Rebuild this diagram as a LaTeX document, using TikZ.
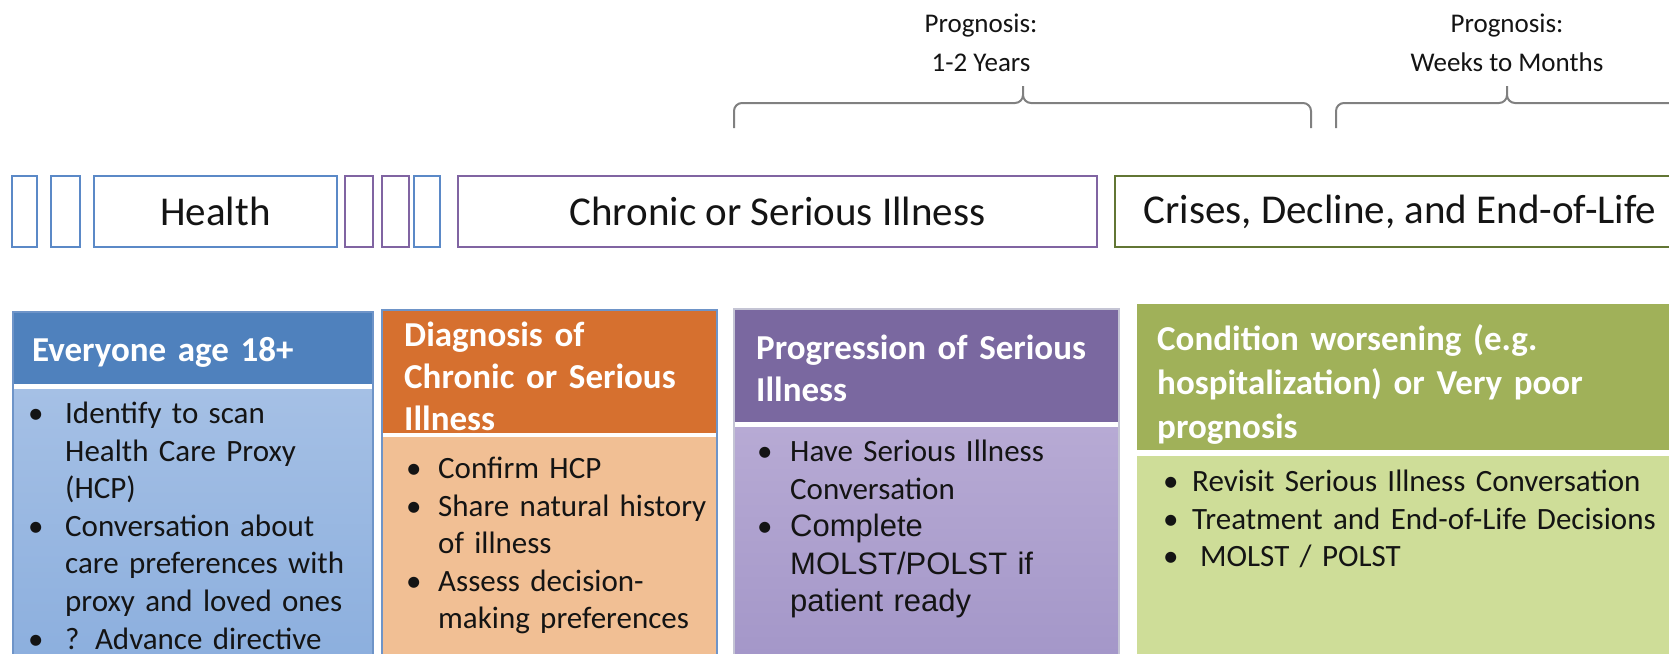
\documentclass[tikz,border=0pt]{standalone}
\usepackage{fontspec}
\setmainfont{Carlito}
\newfontfamily\arialfont{Liberation Sans}
\usepackage{tikz}
\usetikzlibrary{positioning}

\definecolor{phase-blue}{RGB}{91,137,199}
\definecolor{phase-purple}{RGB}{128,100,162}
\definecolor{phase-green}{RGB}{98,118,52}
\definecolor{brace-gray}{RGB}{128,128,128}
\definecolor{txt-dark}{RGB}{20,20,20}
\definecolor{hdr-blue}{RGB}{79,129,189}
\definecolor{body-blue-top}{RGB}{165,192,229}
\definecolor{body-blue-bot}{RGB}{140,175,222}
\definecolor{hdr-orange}{RGB}{214,112,47}
\definecolor{body-orange}{RGB}{241,191,148}
\definecolor{hdr-purple}{RGB}{122,104,160}
\definecolor{body-purple-top}{RGB}{183,170,212}
\definecolor{body-purple-bot}{RGB}{163,150,200}
\definecolor{hdr-green}{RGB}{160,177,89}
\definecolor{body-green}{RGB}{206,221,152}
\definecolor{edge-blue}{RGB}{110,148,200}
\definecolor{edge-gray}{RGB}{196,196,212}

% bullet item with hanging indent
\newcommand{\itm}[2][32pt]{\hangindent=#1\hangafter=1\noindent\strut\makebox[#1][l]{\textbullet}#2\par}

\begin{document}
\begin{tikzpicture}[x=1pt, y=-1pt,
  phase/.style={draw, line width=2.4pt, minimum height=71pt, inner sep=0pt,
                outer sep=0pt, text=txt-dark, font=\fontsize{41}{49}\selectfont},
  prog/.style={align=center, inner sep=0pt, text=txt-dark,
               font=\fontsize{27}{39}\selectfont},
  bracket/.style={draw=brace-gray, line width=2pt},
  hdr/.style={anchor=north west, inner sep=0pt, outer sep=0pt},
  title/.style={inner sep=0pt, align=left, text=white,
                font=\fontsize{35}{42}\selectfont\bfseries,
                execute at begin node=\strut},
  body/.style={inner sep=0pt, outer sep=0pt},
  items/.style={inner sep=0pt, align=left, text=txt-dark,
                font=\fontsize{31}{37.6}\selectfont},
  colframe/.style={line width=1.2pt},
]
\useasboundingbox (0,0) rectangle (1669,653);
\clip (0,0) rectangle (1669,653);
\fill[white] (0,0) rectangle (1669,653);

% Prognosis labels and brackets
\node[prog] (p1) at (981,43) {Prognosis:\\1-2 Years};
\node[prog] (p2) at (1507,43) {Prognosis:\\Weeks to Months};

\draw[bracket] (734,128) -- (734,111) to[out=90,in=180] (742,103) -- (1015,103)
  to[out=0,in=-90] (1023,95) -- (1023,86);
\draw[bracket] (1023,95) to[out=-90,in=180] (1031,103) -- (1303,103)
  to[out=0,in=90] (1311,111) -- (1311,128);
\draw[bracket] (1336,128) -- (1336,111) to[out=90,in=180] (1344,103) -- (1499,103)
  to[out=0,in=-90] (1507,95) -- (1507,86);
\draw[bracket] (1507,95) to[out=-90,in=180] (1515,103) -- (1690,103);

% Phase strip
\node[phase, draw=phase-blue, minimum width=25pt, anchor=north west] (b1) at (12,176) {};
\node[phase, draw=phase-blue, minimum width=29pt, right=14pt of b1] (b2) {};
\node[phase, draw=phase-blue, minimum width=243pt, right=14pt of b2] (hlth) {Health};
\node[phase, draw=phase-purple, minimum width=28pt, right=8pt of hlth] (b3) {};
\node[phase, draw=phase-purple, minimum width=27pt, right=9pt of b3] (b4) {};
\node[phase, draw=phase-blue, minimum width=26pt, right=5pt of b4] (b5) {};
\node[phase, draw=phase-purple, minimum width=639pt, right=18pt of b5] (chr) {Chronic or Serious Illness};
\node[phase, draw=phase-green, minimum width=570pt, right=18pt of chr] (crs) {Crises, Decline, and End-of-Life};

% Everyone age 18+
\node[hdr, fill=hdr-blue, minimum width=360pt, minimum height=72pt] (c1h) at (13,312) {};
\node[title, text width=322pt, below right=20pt and 19pt of c1h.north west] (c1l) {Everyone age 18+};
\node[body, top color=body-blue-top, bottom color=body-blue-bot, minimum width=360pt,
      minimum height=270pt, below=5pt of c1h] (c1b) {};
\node[items, text width=335pt, below right=13pt and 15pt of c1h.south west] (c1t) {%
  \itm[37pt]{Identify to scan\newline Health Care Proxy\newline (HCP)}
  \itm[37pt]{Conversation about\newline care preferences with\newline proxy and loved ones}
  \itm[37pt]{? Advance directive}};
\draw[colframe, edge-blue] (c1h.north west) rectangle (c1b.south east);

% Diagnosis
\node[hdr, fill=hdr-orange, minimum width=335pt, minimum height=123pt] (c2h) at (382,310) {};
\node[title, text width=291pt, below right=7pt and 22pt of c2h.north west] (c2l) {Diagnosis of\\Chronic or Serious\\Illness};
\node[body, fill=body-orange, minimum width=335pt, minimum height=230pt, below=4pt of c2h] (c2b) {};
\node[items, text width=305pt, below right=19pt and 24pt of c2h.south west] (c2t) {%
  \itm{Confirm HCP}
  \itm{Share natural history\newline of illness}
  \itm{Assess decision-\newline making preferences}};
\draw[colframe, edge-blue] (c2h.north west) rectangle (c2b.south east);

% Progression
\node[hdr, fill=hdr-purple, minimum width=385pt, minimum height=113pt] (c3h) at (734,309) {};
\node[title, text width=341pt, below right=21pt and 22pt of c3h.north west] (c3l) {Progression of Serious\\Illness};
\node[body, top color=body-purple-top, bottom color=body-purple-bot, minimum width=385pt,
      minimum height=240pt, below=5pt of c3h] (c3b) {};
\node[items, text width=350pt, below right=13pt and 23pt of c3h.south west] (c3t) {%
  \itm[33pt]{Have Serious Illness\newline Conversation}
  \itm[33pt]{\arialfont Complete\newline MOLST/POLST if\newline patient ready}};
\draw[colframe, edge-gray] (c3h.north west) rectangle (c3b.south east);

% Condition worsening
\node[hdr, fill=hdr-green, minimum width=563pt, minimum height=146pt] (c4h) at (1137,304) {};
\node[title, text width=523pt, font=\fontsize{35}{44}\selectfont\bfseries,
      below right=15pt and 20pt of c4h.north west] (c4l) {Condition worsening (e.g.\\hospitalization) or Very poor\\prognosis};
\node[body, fill=body-green, minimum width=563pt, minimum height=210pt, below=6pt of c4h] (c4b) {};
\node[items, text width=520pt, below right=15pt and 26pt of c4h.south west] (c4t) {%
  \itm[29pt]{Revisit Serious Illness Conversation}
  \itm[29pt]{Treatment and End-of-Life Decisions}
  \itm[29pt]{\hspace{8pt}MOLST / POLST}};

\end{tikzpicture}
\end{document}
